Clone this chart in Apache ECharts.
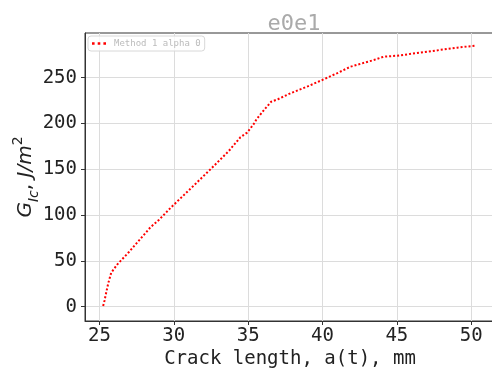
<!DOCTYPE html>
<html>
<head>
<meta charset="utf-8">
<script src="https://cdn.jsdelivr.net/npm/echarts@6/dist/echarts.min.js"></script>
<style>
  html, body { margin: 0; padding: 0; background: #fff; }
  #chart { width: 492px; height: 374px; }
</style>
</head>
<body>
<div id="chart"></div>
<script>
// crack length (mm) and G_Ic (J/m^2)
var crackLength = [25.25, 25.34, 25.45, 25.6, 25.79, 26.19, 26.97, 28.43, 28.99, 29.82, 31.2, 32.51, 33.7, 34.48, 34.93,
  35.38, 35.56, 36.16, 36.55, 37.0, 37.84, 39.0, 39.98, 41.0, 41.88, 43.45, 44.12, 45.02, 47.04, 49.05, 50.29];
var gic = [0.8, 6.5, 15, 26, 37, 46, 59.4, 86.7, 94.6, 108.5, 130, 150.7, 170, 185, 190,
  199.5, 204.6, 216.6, 223.8, 226.5, 233, 240.5, 247.5, 255, 262, 269.3, 273, 274, 278.4, 282.8, 285];
var xTicks = [25, 30, 35, 40, 45, 50];
var yTicks = [0, 50, 100, 150, 200, 250];

var mono = "'DejaVu Sans Mono', monospace";
var chart = echarts.init(document.getElementById("chart"));

var points = crackLength.map(function (x, i) { return [x, gic[i]]; });

var option = {
  backgroundColor: "#fff",
  animation: false,
  title: {
    text: "e0e1",
    left: 289,
    top: 8,
    textAlign: "center",
    textStyle: { fontFamily: mono, fontSize: 22, fontWeight: "normal", color: "#aaaaaa" }
  },
  legend: {
    left: 88,
    top: 36,
    orient: "vertical",
    padding: [3, 4, 3, 4],
    itemWidth: 14,
    itemHeight: 3,
    itemGap: 2,
    borderColor: "#d8d8d8",
    borderWidth: 1,
    borderRadius: 3,
    backgroundColor: "rgba(255,255,255,0.8)",
    textStyle: { fontFamily: mono, fontSize: 9, color: "#bbbbbb", padding: [0, 0, 0, 3] },
    data: [{
      name: "Method 1 alpha 0",
      icon: "path://M0,0h2.5v2.5H0z M5.5,0h2.5v2.5H5.5z M11,0h2.5v2.5H11z",
      itemStyle: { color: "#ff0000" }
    }]
  },
  grid: {
    left: 85,
    top: 33,
    right: -3,
    bottom: 53,
    outerBoundsMode: "none",
    containLabel: false,
    show: true,
    borderColor: "#333",
    borderWidth: 1
  },
  xAxis: {
    type: "value",
    min: 24.03,
    max: 51.6,
    name: "Crack length, a(t), mm",
    nameLocation: "middle",
    nameGap: 29,
    nameMoveOverlap: false,
    nameTextStyle: { fontFamily: mono, fontSize: 19, color: "#222" },
    axisLine: { show: true, onZero: false, lineStyle: { color: "#333", width: 1 } },
    axisTick: { show: true, inside: false, length: 4, lineStyle: { color: "#333" }, customValues: xTicks },
    axisLabel: { customValues: xTicks, fontFamily: mono, fontSize: 19, color: "#222", margin: 6 },
    splitLine: { show: true, lineStyle: { color: "#dcdcdc", width: 1 } }
  },
  yAxis: {
    type: "value",
    min: -15.6,
    max: 298.8,
    name: "{g|G}{sub|Ic}{n|, }{g|J/m}{sup|2}",
    nameLocation: "middle",
    nameRotate: 90,
    nameGap: 44,
    nameMoveOverlap: false,
    nameTextStyle: {
      color: "#222",
      rich: {
        g: { fontFamily: "'DejaVu Sans'", fontStyle: "italic", fontSize: 20, color: "#222", lineHeight: 26 },
        n: { fontFamily: "'DejaVu Sans'", fontSize: 20, color: "#222", lineHeight: 26 },
        sub: { fontFamily: "'DejaVu Sans'", fontStyle: "italic", fontSize: 14, color: "#222", verticalAlign: "bottom", lineHeight: 22 },
        sup: { fontFamily: "'DejaVu Sans'", fontSize: 14, color: "#222", verticalAlign: "top", lineHeight: 30 }
      }
    },
    axisLine: { show: true, onZero: false, lineStyle: { color: "#333", width: 1 } },
    axisTick: { show: true, inside: false, length: 4, lineStyle: { color: "#333" }, customValues: yTicks },
    axisLabel: { customValues: yTicks, fontFamily: mono, fontSize: 19, color: "#222", margin: 8 },
    splitLine: { show: true, lineStyle: { color: "#dcdcdc", width: 1 } }
  },
  series: [
    {
      name: "Method 1 alpha 0",
      type: "line",
      data: points,
      showSymbol: false,
      symbol: "none",
      smooth: false,
      lineStyle: { color: "#ff0000", width: 2, type: [2, 2], cap: "butt" },
      itemStyle: { color: "#ff0000" }
    }
  ]
};

chart.setOption(option);
</script>
</body>
</html>
